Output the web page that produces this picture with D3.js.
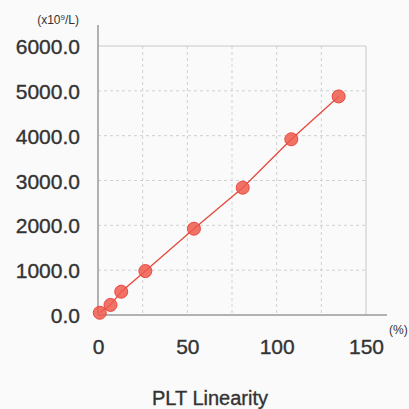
<!DOCTYPE html>
<html>
<head>
<meta charset="utf-8">
<script src="https://cdn.jsdelivr.net/npm/d3@7"></script>
<style>
  body { margin: 0; background: #fafafa; }
  text { font-family: "Liberation Sans", Arial, sans-serif; fill: #333; }
  .heavy { stroke: #333; stroke-width: 0.35px; }
</style>
</head>
<body>
<div id="chart"></div>
<script>
// data
var xValues = [1, 7, 13, 26.5, 53.7, 81, 108.2, 134.7];
var yValues = [50, 225, 520, 980, 1925, 2840, 3920, 4875];
var xTicks = [0, 50, 100, 150];
var yTicks = [0, 1000, 2000, 3000, 4000, 5000, 6000];
var xGrid = [25, 50, 75, 100, 125];
var yGrid = [1000, 2000, 3000, 4000, 5000];

var svgWidth = 409;
var svgHeight = 409;

var margins = { top: 46, left: 98, right: 43, bottom: 94 };
var width = svgWidth - margins.left - margins.right;
var height = svgHeight - margins.top - margins.bottom;

var svg = d3.select('#chart')
    .append('svg')
    .attr('width', svgWidth)
    .attr('height', svgHeight);

svg.append('rect')
    .attr('width', svgWidth)
    .attr('height', svgHeight)
    .attr('fill', '#fafafa');

var chartGroup = svg.append('g')
    .attr('transform', `translate(${margins.left}, ${margins.top})`);

var x = d3.scaleLinear().domain([0, 150]).range([0, width]);
var y = d3.scaleLinear().domain([0, 6000]).range([height, 0]);

// dashed grid
chartGroup.selectAll('.vgrid')
    .data(xGrid)
    .enter()
    .append('line')
    .attr('x1', d => x(d)).attr('x2', d => x(d))
    .attr('y1', 0).attr('y2', height)
    .attr('stroke', '#d0d0d0')
    .attr('stroke-dasharray', '3,3');

chartGroup.selectAll('.hgrid')
    .data(yGrid)
    .enter()
    .append('line')
    .attr('x1', 0).attr('x2', width)
    .attr('y1', d => y(d)).attr('y2', d => y(d))
    .attr('stroke', '#d0d0d0')
    .attr('stroke-dasharray', '3,3');

// solid top & right border
chartGroup.append('line')
    .attr('x1', 0).attr('x2', width)
    .attr('y1', y(6000)).attr('y2', y(6000))
    .attr('stroke', '#c8c8c8');
chartGroup.append('line')
    .attr('x1', x(150)).attr('x2', x(150))
    .attr('y1', 0).attr('y2', height)
    .attr('stroke', '#c8c8c8');

// axes
var bottomAxis = d3.axisBottom(x).tickValues(xTicks).tickSize(0).tickPadding(24);
var leftAxis = d3.axisLeft(y).tickValues(yTicks).tickSize(0).tickPadding(18)
    .tickFormat(d3.format('.1f'));

var gx = chartGroup.append('g')
    .attr('transform', `translate(0, ${height})`)
    .call(bottomAxis);
gx.select('.domain').remove();
gx.selectAll('text').attr('class', 'heavy').style('font-size', '21px').attr('fill', '#333');

var gy = chartGroup.append('g').call(leftAxis);
gy.select('.domain').remove();
gy.selectAll('text').attr('class', 'heavy').style('font-size', '21px').attr('fill', '#333').attr('dy', '0.36em');

// axis lines
chartGroup.append('line')
    .attr('x1', 0).attr('x2', 0)
    .attr('y1', -21).attr('y2', height)
    .attr('stroke', '#999').attr('stroke-width', 1.5);
chartGroup.append('line')
    .attr('x1', 0).attr('x2', width + 21)
    .attr('y1', height).attr('y2', height)
    .attr('stroke', '#999').attr('stroke-width', 1.5);

// line and points
var line = d3.line()
    .x((d, i) => x(xValues[i]))
    .y(d => y(d));

chartGroup.append('path')
    .datum(yValues)
    .attr('d', line)
    .attr('fill', 'none')
    .attr('stroke', '#e8483d')
    .attr('stroke-width', 1.3);

chartGroup.selectAll('circle')
    .data(yValues)
    .enter()
    .append('circle')
    .attr('cx', (d, i) => x(xValues[i]))
    .attr('cy', d => y(d))
    .attr('r', 6.5)
    .attr('fill', '#ee5a4e')
    .attr('fill-opacity', 0.85)
    .attr('stroke', '#e8483d')
    .attr('stroke-width', 1);

// unit labels
var unitY = svg.append('text')
    .attr('x', 79)
    .attr('y', 24)
    .attr('text-anchor', 'end')
    .style('font-size', '12px');
unitY.append('tspan').text('(x10');
unitY.append('tspan').attr('dy', -4).style('font-size', '8px').text('9');
unitY.append('tspan').attr('dy', 4).text('/L)');

svg.append('text')
    .attr('x', 389)
    .attr('y', 334)
    .style('font-size', '12px')
    .text('(%)');

// title
svg.append('text')
    .attr('class', 'heavy')
    .attr('x', 210)
    .attr('y', 405)
    .attr('text-anchor', 'middle')
    .style('font-size', '20px')
    .text('PLT Linearity');
</script>
</body>
</html>
